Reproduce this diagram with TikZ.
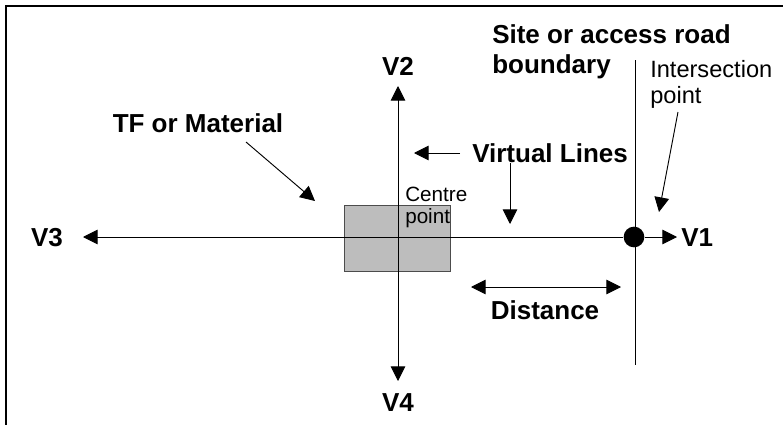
\documentclass[tikz,border=0pt]{standalone}
\usepackage{fontspec}
\setmainfont{Liberation Sans}
\usetikzlibrary{arrows.meta, positioning}
\definecolor{matgray}{HTML}{BDBDBD}
\tikzset{
  lbl/.style={font=\fontsize{19.5}{22}\selectfont\bfseries, inner sep=0pt},
  note/.style={font=\fontsize{17.7}{22}\selectfont, inner sep=0pt},
  ptr/.style={-{Triangle[length=11pt,width=11pt]}, line width=0.7pt},
}
\begin{document}
\begin{tikzpicture}[x=0.75pt, y=-0.75pt]
\useasboundingbox (0,0) rectangle (783,425);
\draw[line width=1.2pt] (783,6) -- (6,6) -- (6,425);
% material box and centre
\node[draw=black!70, fill=matgray, line width=0.6pt, inner sep=0pt,
  minimum width=80pt, minimum height=49pt] (mat) at (397.5,238.5) {};
\coordinate (ctr) at (398,237);
\node[font=\fontsize{15.5}{16}\selectfont, inner sep=0pt, align=left, anchor=north west]
  (cp) at (405,187) {Centre\\point};
% axes
\node[lbl] (v2) at (398,66) {V2};
\node[lbl] (v4) at (398,403) {V4};
\node[lbl] (v3) at (47,238) {V3};
\node[lbl, anchor=west] (v1) at (681,238) {V1};
\coordinate (t2) at (398,86);
\coordinate (t4) at (398,381);
\coordinate (t3) at (83,237);
\coordinate (t1) at (677,237);
\draw[ptr] (ctr) -- (t2);
\draw[ptr] (ctr) -- (t4);
\draw[ptr] (ctr) -- (t3);
% boundary and intersection
\coordinate (btop) at (635,60);
\coordinate (bbot) at (635,365);
\draw[line width=0.7pt] (btop) -- (bbot);
\node[circle, fill=black, minimum size=15.5pt, inner sep=0pt] (dot) at (634,237) {};
\draw[line width=0.7pt] (ctr) -- (dot);
\draw[ptr] (dot) -- (t1);
% labels
\node[lbl, anchor=base west] (site) at (492,43) {Site or access road};
\node[lbl, anchor=base west] (bnd) at (492,73) {boundary};
\node[note, anchor=base west] (isec) at (650,77) {Intersection};
\node[note, anchor=base west] (ipt) at (650,103) {point};
\node[lbl] (tfl) at (198,123) {TF or Material};
\node[lbl, anchor=west] (vl) at (472,153) {Virtual Lines};
\node[lbl] (dist) at (545,310) {Distance};
% pointers
\coordinate (i1) at (678,112);
\coordinate (i2) at (659,212);
\draw[ptr] (i1) -- (i2);
\coordinate (m1) at (246,142);
\coordinate (m2) at (315,201);
\draw[ptr] (m1) -- (m2);
\coordinate (l1) at (460,153);
\coordinate (l2) at (414,153);
\draw[ptr] (l1) -- (l2);
\coordinate (d1) at (510,163);
\coordinate (d2) at (510,224);
\draw[ptr] (d1) -- (d2);
\coordinate (s1) at (471,287);
\coordinate (s2) at (621,287);
\draw[{Triangle[length=11pt,width=11pt]}-{Triangle[length=11pt,width=11pt]}, line width=0.7pt] (s1) -- (s2);
\end{tikzpicture}
\end{document}
